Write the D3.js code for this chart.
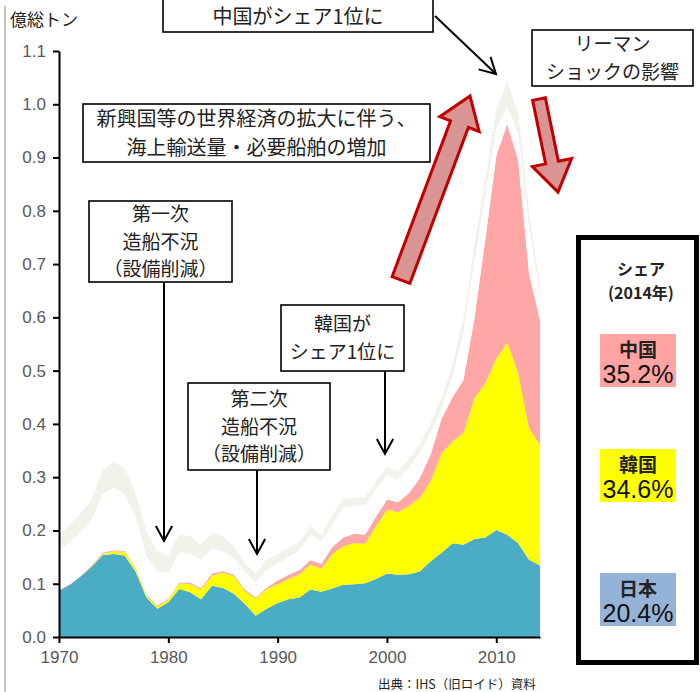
<!DOCTYPE html>
<html>
<head>
<meta charset="utf-8">
<script src="https://cdn.jsdelivr.net/npm/d3@7"></script>
<style>
body { margin: 0; background: #fff; }
text { font-family: "Noto Sans CJK JP", "Noto Sans", sans-serif; }
.num { font-family: "Liberation Sans", Arial, sans-serif; }
</style>
</head>
<body>
<div id="chart"></div>
<script>
// years and stacked series (億総トン)
var years = d3.range(1970, 2015);

var japan = [.087, .098, .114, .132, .154, .156, .153, .123, .074, .053,
  .065, .090, .084, .071, .096, .092, .081, .062, .040, .053,
  .064, .071, .074, .089, .085, .091, .098, .099, .101, .109,
  .119, .117, .118, .123, .142, .158, .176, .173, .184, .187,
  .201, .192, .176, .145, .134];

var korea = [.000, .000, .000, .001, .002, .005, .007, .005, .004, .004,
  .005, .011, .015, .018, .019, .029, .033, .024, .032, .037,
  .035, .038, .044, .047, .043, .065, .072, .077, .074, .099,
  .120, .117, .128, .138, .151, .187, .191, .210, .264, .290,
  .322, .361, .319, .247, .227];

var china = [.001, .001, .001, .002, .002, .002, .002, .002, .002, .002,
  .002, .002, .003, .003, .004, .003, .003, .003, .002, .003,
  .007, .008, .008, .008, .009, .013, .017, .018, .017, .018,
  .019, .019, .024, .037, .050, .065, .083, .100, .150, .270,
  .380, .410, .400, .290, .234];

var other1 = [.073, .080, .083, .085, .110, .118, .105, .096, .071, .064,
  .048, .056, .054, .053, .047, .037, .031, .034, .028, .033,
  .033, .033, .037, .048, .042, .043, .055, .052, .056, .051,
  .045, .043, .048, .048, .042, .020, .040, .092, .107, .083,
  .052, .032, .050, .088, .045];

var other2 = [.031, .032, .035, .038, .045, .048, .050, .044, .047, .038,
  .033, .034, .033, .028, .029, .028, .022, .016, .017, .019,
  .017, .017, .016, .016, .011, .017, .016, .015, .015, .015,
  .016, .015, .015, .015, .016, .020, .020, .025, .030, .030,
  .035, .047, .040, .030, .020];

var seriesKeys = ["japan", "korea", "china", "other1", "other2"];
var seriesColors = ["#4bacc6", "#ffff00", "#ffa6a6", "#ffffff", "#f2f2ea"];
var yTicks = [0, .1, .2, .3, .4, .5, .6, .7, .8, .9, 1.0, 1.1];
var xTicks = [1970, 1980, 1990, 2000, 2010];

var share = [
  { name: "中国", pct: "35.2%", color: "#ffa3a3" },
  { name: "韓国", pct: "34.6%", color: "#ffff00" },
  { name: "日本", pct: "20.4%", color: "#95b3d7" }
];

var rows = years.map(function (y, i) {
  return { year: y, japan: japan[i], korea: korea[i], china: china[i], other1: other1[i], other2: other2[i] };
});

var svgWidth = 700, svgHeight = 692;
var margin = { top: 51, left: 59, right: 161, bottom: 55 };
var width = 540 - margin.left;
var height = 637 - margin.top;

var svg = d3.select("#chart").append("svg")
  .attr("width", svgWidth)
  .attr("height", svgHeight);

// left frame line
svg.append("line")
  .attr("x1", 5).attr("x2", 5).attr("y1", 6).attr("y2", svgHeight)
  .attr("stroke", "#9a9a9a").attr("stroke-width", 1.2);

var chart = svg.append("g")
  .attr("transform", `translate(${margin.left}, ${margin.top})`);

var x = d3.scaleLinear().domain([1970, 2014]).range([0, width]);
var y = d3.scaleLinear().domain([0, 1.1]).range([height, 0]);

var stack = d3.stack().keys(seriesKeys);
var layers = stack(rows);

var area = d3.area()
  .x(d => x(d.data.year))
  .y0(d => y(d[0]))
  .y1(d => y(d[1]));

chart.selectAll(".layer")
  .data(layers)
  .enter()
  .append("path")
  .attr("class", "layer")
  .attr("d", area)
  .attr("fill", (d, i) => seriesColors[i]);

// axes
var leftAxis = d3.axisLeft(y).tickValues(yTicks).tickFormat(d3.format(".1f")).tickSize(6).tickSizeOuter(0);
var bottomAxis = d3.axisBottom(x).tickValues(xTicks).tickFormat(d3.format("d")).tickSize(6).tickSizeOuter(0);

var gy = chart.append("g").call(leftAxis);
var gx = chart.append("g").attr("transform", `translate(0, ${height})`).call(bottomAxis);

[gy, gx].forEach(function (g) {
  g.select(".domain").attr("stroke", "#000").attr("stroke-width", 2);
  g.selectAll(".tick line").attr("stroke", "#000").attr("stroke-width", 2);
  g.selectAll(".tick text")
    .attr("class", "num")
    .style("font-size", "17px")
    .attr("fill", "#595959");
});
gy.selectAll(".tick text").attr("x", -13);
gx.selectAll(".tick text").attr("y", 14);

// unit label
svg.append("text").attr("x", 10).attr("y", 26)
  .style("font-size", "17px").attr("fill", "#222").text("億総トン");

// multi-line centred text, one <text> with a tspan per line
function lines(cx, items) {
  var t = svg.append("text").attr("text-anchor", "middle").attr("fill", "#222");
  items.forEach(function (it) {
    var sp = t.append("tspan")
      .attr("x", cx)
      .attr("y", it.y + 0.37 * it.size)
      .style("font-size", it.size + "px")
      .text(it.text);
    if (it.bold) sp.style("font-weight", "bold");
    if (it.num) sp.attr("class", "num").attr("y", it.y + 0.36 * it.size).attr("fill", "#111");
  });
  return t;
}

// annotation boxes: lines spread around the box centre
function box(x0, y0, x1, y1, texts, size, gap) {
  svg.append("rect")
    .attr("x", x0).attr("y", y0).attr("width", x1 - x0).attr("height", y1 - y0)
    .attr("fill", "#fff").attr("stroke", "#000").attr("stroke-width", 1.6);
  var mid = (y0 + y1) / 2, n = texts.length;
  lines((x0 + x1) / 2, texts.map(function (t, i) {
    return { text: t, y: mid + (i - (n - 1) / 2) * gap, size: size };
  }));
}

function arrow(x1, y1, x2, y2, head) {
  svg.append("line").attr("x1", x1).attr("y1", y1).attr("x2", x2).attr("y2", y2)
    .attr("stroke", "#000").attr("stroke-width", 2);
  var a = Math.atan2(y2 - y1, x2 - x1);
  var pts = [-0.5, 0.5].map(function (s) {
    return [x2 - head * Math.cos(a + s), y2 - head * Math.sin(a + s)];
  });
  svg.append("path")
    .attr("d", `M${pts[0]}L${x2},${y2}L${pts[1]}`)
    .attr("fill", "none").attr("stroke", "#000").attr("stroke-width", 2);
}

// block arrow (red)
function blockArrow(tx, ty, hx, hy, shaft, headW, headL) {
  var len = Math.hypot(hx - tx, hy - ty);
  var ang = Math.atan2(hy - ty, hx - tx) * 180 / Math.PI;
  var s = shaft / 2, h = headW / 2, b = len - headL;
  var p = [[0, -s], [b, -s], [b, -h], [len, 0], [b, h], [b, s], [0, s]];
  svg.append("path")
    .attr("transform", `translate(${tx},${ty}) rotate(${ang})`)
    .attr("d", "M" + p.join("L") + "Z")
    .attr("fill", "#d99594").attr("stroke", "#c00000").attr("stroke-width", 3)
    .attr("stroke-linejoin", "miter");
}

blockArrow(401, 280, 470, 96, 19, 42, 30);
blockArrow(539, 99, 558, 192, 13, 40, 30);

svg.append("rect").attr("x", 163).attr("y", -4).attr("width", 270).attr("height", 36)
  .attr("fill", "#fff").attr("stroke", "#000").attr("stroke-width", 1.6);
lines(298, [{ text: "中国がシェア1位に", y: 17, size: 20 }]);
arrow(435, 16, 496, 74, 18);

box(532, 30, 693, 86, ["リーマン", "ショックの影響"], 19, 27.6);

box(83, 104, 430, 162, ["新興国等の世界経済の拡大に伴う、", "海上輸送量・必要船舶の増加"], 20, 29);

box(89, 201, 232, 282, ["第一次", "造船不況", "（設備削減）"], 19, 27.6);
arrow(164, 282, 164, 541, 17);

box(188, 383, 330, 470, ["第二次", "造船不況", "（設備削減）"], 19, 27.6);
arrow(257, 470, 257, 554, 17);

box(281, 305, 404, 371, ["韓国が", "シェア1位に"], 19, 27.6);
arrow(385, 371, 385, 454, 17);

// share panel
svg.append("rect")
  .attr("x", 578.5).attr("y", 237.5).attr("width", 118).attr("height", 425)
  .attr("fill", "#fff").attr("stroke", "#000").attr("stroke-width", 5);

lines(641, [
  { text: "シェア", y: 269.3, size: 16, bold: true },
  { text: "(2014年)", y: 292.7, size: 16, bold: true }
]);

var legendTops = [334, 449, 573];
share.forEach(function (s, i) {
  var t = legendTops[i];
  svg.append("rect").attr("x", 600).attr("y", t).attr("width", 76).attr("height", 53)
    .attr("fill", s.color);
  lines(638, [
    { text: s.name, y: t + 16, size: 19, bold: true },
    { text: s.pct, y: t + 40, size: 25, num: true }
  ]);
});

// source
svg.append("text").attr("x", 378).attr("y", 689)
  .style("font-size", "12.5px").attr("fill", "#222")
  .text("出典：IHS（旧ロイド）資料");
</script>
</body>
</html>
